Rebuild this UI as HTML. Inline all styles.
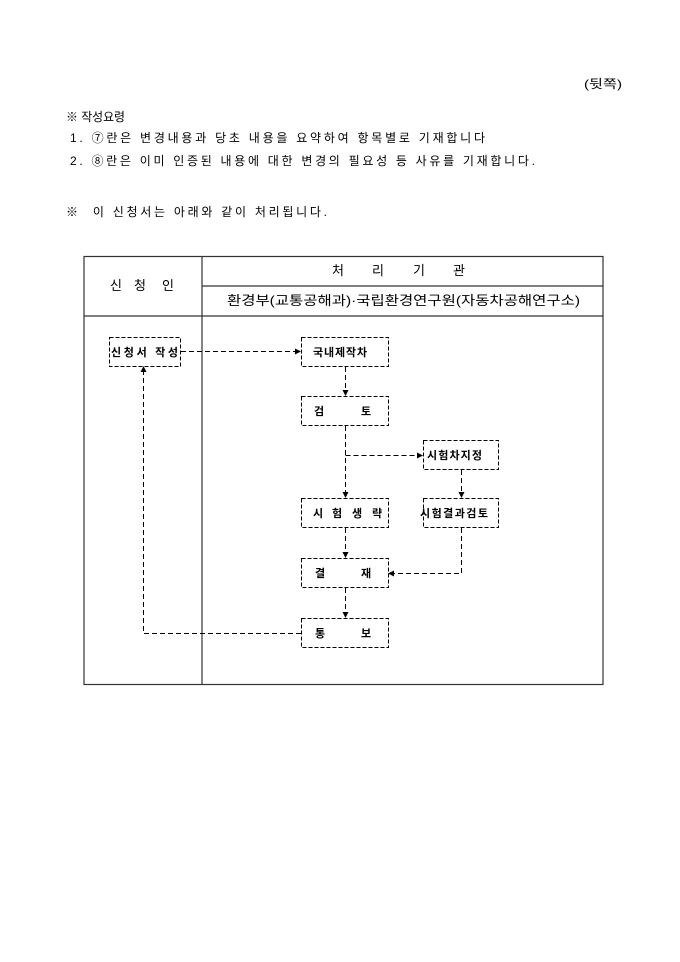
<!DOCTYPE html>
<html><head><meta charset="utf-8"><style>
body{margin:0;width:680px;height:962px;background:#fff;position:relative;font-family:"Liberation Sans","Noto Sans CJK KR",sans-serif;color:#000}
</style></head><body>
<svg width="680" height="962" style="position:absolute;left:0;top:0" font-family="Liberation Sans, Noto Sans CJK KR, sans-serif">
<defs><marker id="a" markerWidth="6" markerHeight="6" refX="5" refY="3" orient="auto" markerUnits="userSpaceOnUse"><path d="M0,0L6,3L0,6z" fill="#000"/></marker></defs>
<g font-size="12">
<text x="584" y="88" textLength="38" lengthAdjust="spacingAndGlyphs">(뒷쪽)</text>
<text x="66" y="121" textLength="59" lengthAdjust="spacingAndGlyphs">※ 작성요령</text>
<text x="70" y="142" textLength="415" lengthAdjust="spacing">1. ⑦란은 변경내용과 당초 내용을 요약하여 항목별로 기재합니다</text>
<text x="70" y="165" textLength="465" lengthAdjust="spacing">2. ⑧란은 이미 인증된 내용에 대한 변경의 필요성 등 사유를 기재합니다.</text>
<text x="66" y="216" textLength="261" lengthAdjust="spacing">※&#160; 이 신청서는 아래와 같이 처리됩니다.</text>
</g>
<g stroke="#333" stroke-width="1.2" fill="none">
<rect x="84" y="256.5" width="519" height="428"/>
<line x1="202" y1="256" x2="202" y2="685"/>
<line x1="202" y1="286" x2="603" y2="286"/>
<line x1="84" y1="316" x2="603" y2="316"/>
</g>
<g font-size="13">
<text x="110" y="290">신</text><text x="134" y="290">청</text><text x="162" y="290">인</text>
<text x="332" y="275">처</text><text x="372" y="275">리</text><text x="413" y="275">기</text><text x="453" y="275">관</text>
<text x="227" y="305" textLength="353" lengthAdjust="spacingAndGlyphs">환경부(교통공해과)·국립환경연구원(자동차공해연구소)</text>
</g>
<g stroke="#000" stroke-width="1" fill="none" stroke-dasharray="4,2">
<rect x="109.5" y="337.5" width="71" height="29"/>
<rect x="301.5" y="337.5" width="87" height="29"/>
<rect x="301.5" y="396.5" width="87" height="29"/>
<rect x="423.5" y="440.5" width="75" height="29"/>
<rect x="301.5" y="498.5" width="87" height="29"/>
<rect x="423.5" y="498.5" width="75" height="29"/>
<rect x="301.5" y="558.5" width="87" height="29"/>
<rect x="301.5" y="618.5" width="87" height="29"/>
</g>
<g stroke="#000" stroke-width="1" fill="none" stroke-dasharray="5,3">
<path d="M181,351.5H300" marker-end="url(#a)"/>
<path d="M345.5,367V395" marker-end="url(#a)"/>
<path d="M345.5,426V497" marker-end="url(#a)"/>
<path d="M345.5,455.5H422" marker-end="url(#a)"/>
<path d="M461.5,470V497" marker-end="url(#a)"/>
<path d="M345.5,528V557" marker-end="url(#a)"/>
<path d="M345.5,588V617" marker-end="url(#a)"/>
<path d="M461.5,528V573.5H389" marker-end="url(#a)"/>
<path d="M301,633.5H143.5V367" marker-end="url(#a)"/>
</g>
<g font-size="11" font-weight="bold">
<text x="111" y="356" textLength="67" lengthAdjust="spacing">신청서 작성</text>
<text x="313" y="356" textLength="54" lengthAdjust="spacing">국내제작차</text>
<text x="314" y="415">검</text><text x="361" y="415">토</text>
<text x="427" y="459" textLength="55" lengthAdjust="spacing">시험차지정</text>
<text x="313" y="517">시</text><text x="332" y="517">험</text><text x="352" y="517">생</text><text x="372" y="517">략</text>
<text x="420" y="517" textLength="68" lengthAdjust="spacing">시험결과검토</text>
<text x="315" y="577">결</text><text x="361" y="577">재</text>
<text x="315" y="637">통</text><text x="361" y="637">보</text>
</g>
</svg>
</body></html>
